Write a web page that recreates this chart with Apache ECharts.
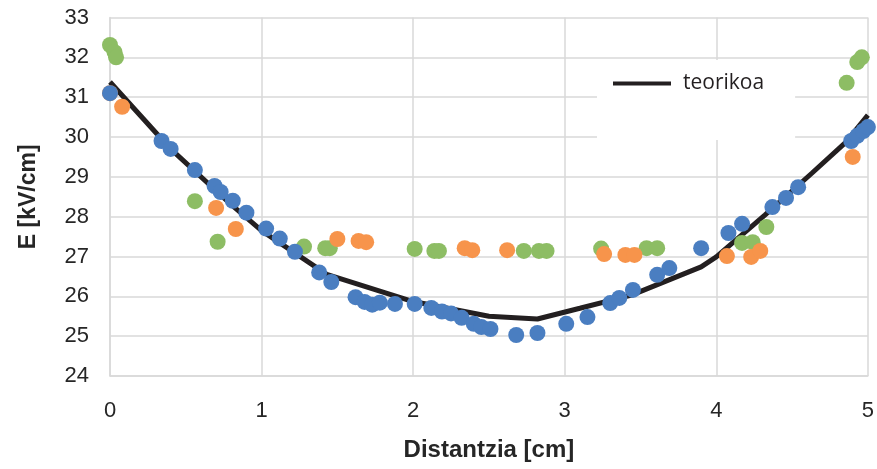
<!DOCTYPE html>
<html>
<head>
<meta charset="utf-8">
<script src="https://cdn.jsdelivr.net/npm/echarts@6/dist/echarts.min.js"></script>
<style>html,body{margin:0;padding:0;background:#fff}#c{width:877px;height:469px}</style>
</head>
<body>
<div id="c"></div>
<script>
var xTicks = [0, 1, 2, 3, 4, 5];
var yTicks = [24, 25, 26, 27, 28, 29, 30, 31, 32, 33];

var blueX = [0, 0.34, 0.40, 0.56, 0.69, 0.73, 0.81, 0.90, 1.03, 1.12, 1.22, 1.38, 1.46, 1.62, 1.68, 1.73, 1.78, 1.88, 2.01, 2.12, 2.19, 2.25, 2.32, 2.40, 2.45, 2.51, 2.68, 2.82, 3.01, 3.15, 3.30, 3.36, 3.45, 3.61, 3.69, 3.90, 4.08, 4.17, 4.37, 4.46, 4.54, 4.89, 4.93, 4.97, 5.00];
var blueY = [31.1, 29.9, 29.7, 29.17, 28.77, 28.62, 28.4, 28.1, 27.7, 27.45, 27.12, 26.6, 26.36, 25.98, 25.86, 25.79, 25.84, 25.81, 25.81, 25.71, 25.62, 25.57, 25.46, 25.31, 25.23, 25.18, 25.03, 25.08, 25.31, 25.48, 25.83, 25.96, 26.16, 26.54, 26.71, 27.21, 27.59, 27.82, 28.24, 28.47, 28.74, 29.90, 30.03, 30.15, 30.25];

var orangeX = [0, 0.08, 0.70, 0.83, 1.50, 1.64, 1.69, 2.34, 2.39, 2.62, 3.26, 3.40, 3.46, 4.07, 4.23, 4.29, 4.90];
var orangeY = [31.1, 30.76, 28.22, 27.69, 27.44, 27.39, 27.36, 27.21, 27.16, 27.16, 27.06, 27.04, 27.04, 27.01, 26.99, 27.14, 29.5];

var greenX = [0, 0.03, 0.04, 0.56, 0.71, 1.28, 1.42, 1.45, 2.01, 2.14, 2.17, 2.73, 2.83, 2.88, 3.24, 3.54, 3.61, 4.17, 4.24, 4.33, 4.86, 4.93, 4.96];
var greenY = [32.31, 32.13, 32.0, 28.39, 27.37, 27.25, 27.21, 27.21, 27.19, 27.14, 27.14, 27.14, 27.14, 27.14, 27.2, 27.21, 27.21, 27.34, 27.36, 27.74, 31.36, 31.88, 32.0];

var theoryX = [0, 0.4, 0.8, 1.0, 1.43, 2.0, 2.5, 2.82, 3.1, 3.44, 3.9, 4.0, 4.32, 4.63, 4.85, 5.0];
var theoryY = [31.38, 29.7, 28.3, 27.65, 26.55, 25.87, 25.5, 25.43, 25.7, 26.03, 26.74, 26.99, 28.04, 29.09, 29.85, 30.55];

function pairs(xs, ys) { return xs.map(function (x, i) { return [x, ys[i]]; }); }

var labelFont = "'Liberation Sans', Arial, sans-serif";
var chart = echarts.init(document.getElementById('c'), null, {renderer: 'canvas'});
chart.setOption({
  animation: false,
  backgroundColor: '#ffffff',
  grid: {left: 110, right: 7, top: 17.5, bottom: 93, containLabel: false},
  legend: {
    data: [{name: 'teorikoa'}],
    left: 597, top: 60,
    backgroundColor: '#ffffff',
    padding: [13, 31, 46, 16],
    itemWidth: 58, itemHeight: 22,
    icon: 'path://M0,9 L58,9 L58,13 L0,13 Z',
    textStyle: {fontSize: 21, color: '#231f20', fontFamily: "'Open Sans', sans-serif", padding: [0, 0, 0, 7]}
  },
  xAxis: {
    type: 'value', min: xTicks[0], max: xTicks[xTicks.length - 1], interval: 1,
    name: 'Distantzia [cm]', nameLocation: 'middle', nameGap: 62,
    nameTextStyle: {fontSize: 24, fontWeight: 'bold', color: '#262626', fontFamily: labelFont},
    axisLine: {show: true, lineStyle: {color: '#d9d9d9', width: 1.5}},
    axisTick: {show: false},
    axisLabel: {fontSize: 22, color: '#262626', margin: 24, fontFamily: labelFont},
    splitLine: {show: true, lineStyle: {color: '#d9d9d9', width: 1.5}}
  },
  yAxis: {
    type: 'value', min: yTicks[0], max: yTicks[yTicks.length - 1], interval: 1,
    name: 'E [kV/cm]', nameLocation: 'middle', nameGap: 70, nameRotate: 90,
    nameTextStyle: {fontSize: 23, fontWeight: 'bold', color: '#262626', fontFamily: labelFont},
    axisLine: {show: true, lineStyle: {color: '#d9d9d9', width: 1.5}},
    axisTick: {show: false},
    axisLabel: {fontSize: 22, color: '#262626', margin: 21, fontFamily: labelFont},
    splitLine: {show: true, lineStyle: {color: '#d9d9d9', width: 1.5}}
  },
  series: [
    {name: 'teorikoa', type: 'line', data: pairs(theoryX, theoryY), showSymbol: false, symbol: 'none',
     lineStyle: {color: '#231f20', width: 5}, itemStyle: {color: '#231f20'}, z: 1},
    {name: 'g', type: 'scatter', data: pairs(greenX, greenY), symbolSize: 16, itemStyle: {color: '#8dbd64', opacity: 1}, z: 2},
    {name: 'o', type: 'scatter', data: pairs(orangeX, orangeY), symbolSize: 16, itemStyle: {color: '#f7944b', opacity: 1}, z: 3},
    {name: 'b', type: 'scatter', data: pairs(blueX, blueY), symbolSize: 16, itemStyle: {color: '#4a7ec1', opacity: 1}, z: 4}
  ]
});
</script>
</body>
</html>
